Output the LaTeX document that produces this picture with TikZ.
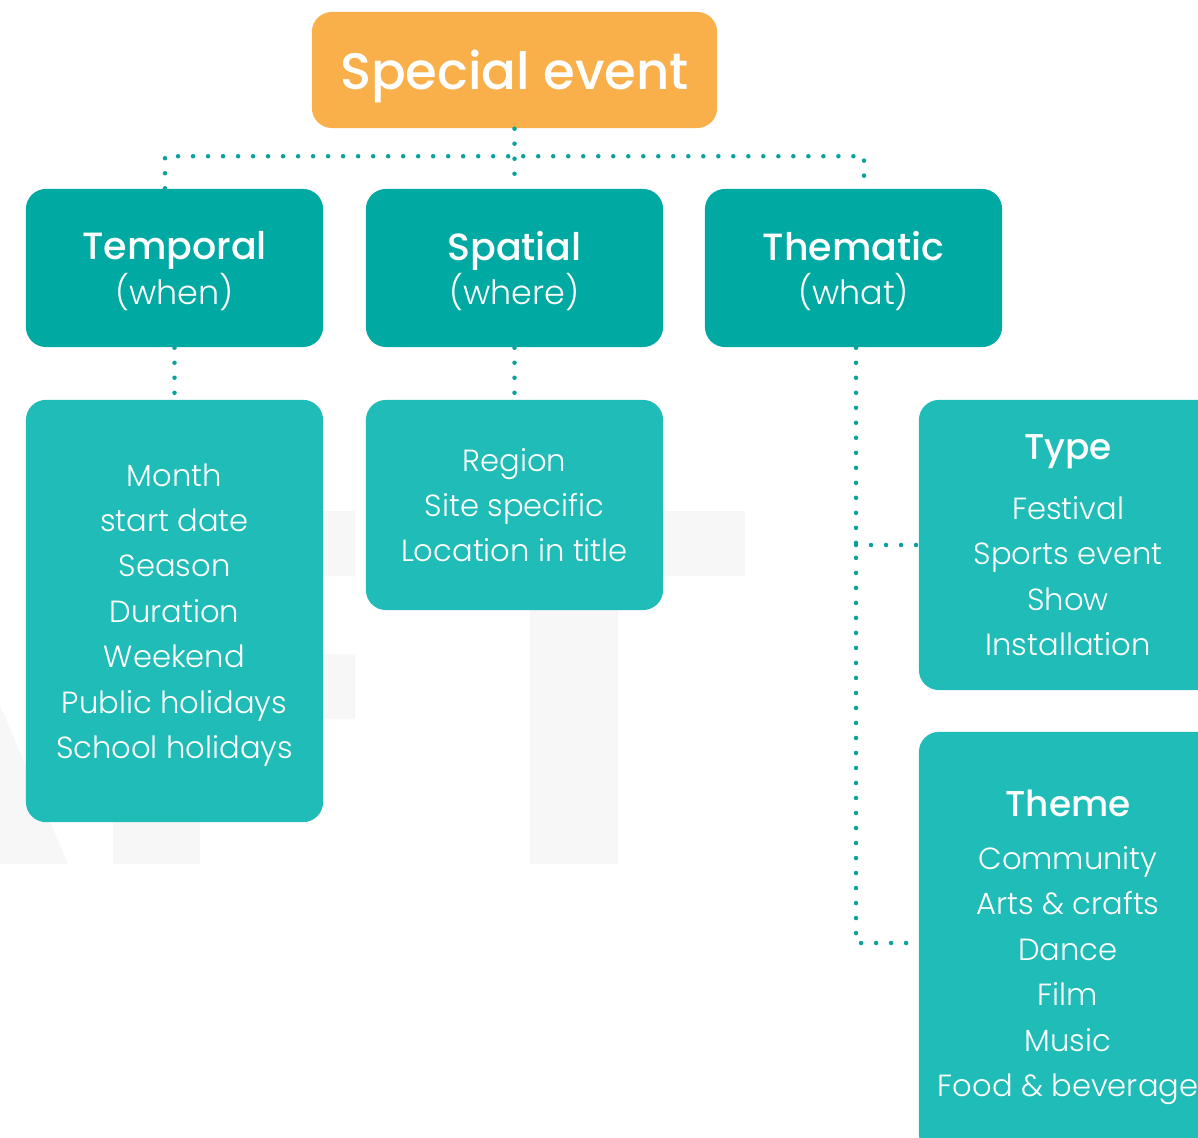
\documentclass[tikz,border=0pt]{standalone}
\usepackage{fontspec}
\setmainfont{Poppins}[UprightFont=* Light,BoldFont=* Medium]
\definecolor{eventorange}{HTML}{F9B04A}
\definecolor{headteal}{HTML}{00A9A2}
\definecolor{listteal}{HTML}{1FBCB8}
\definecolor{dotteal}{HTML}{0AA29C}
\definecolor{wmgray}{HTML}{F7F7F7}

\begin{document}
\begin{tikzpicture}[x=.01cm,y=-.01cm,
  box/.style={rounded corners=.2cm,text=white,align=center,inner sep=0pt,
    text depth=0pt,minimum width=2.97cm},
  header/.style={box,fill=headteal,minimum height=1.58cm,
    font=\fontsize{9.5}{12.7}\selectfont},
  itemlist/.style={box,fill=listteal,font=\fontsize{8.7}{12.9}\selectfont},
  link/.style={draw=dotteal,line width=.045cm,line cap=round,
    dash pattern=on 0pt off .15cm}]
 \clip (0,0) rectangle (1198,1137);
 \fill[wmgray] (0,705)--(68,864)--(0,864)--cycle;
 \fill[wmgray] (113,511) rectangle (200,864) (113,511) rectangle (355,576)
   (113,654) rectangle (355,719);
 \fill[wmgray] (403,511) rectangle (745,576) (530,576) rectangle (618,864);
 \node[box,fill=eventorange,minimum width=4.05cm,minimum height=1.16cm,
   font=\bfseries\fontsize{14.6}{18}\selectfont] (event) at (514.5,70) {Special event};
 \node[header] (tmp) at (174.5,268)
   {{\bfseries\fontsize{10.8}{12.7}\selectfont Temporal}\\(when)};
 \node[header] (spa) at (514.5,268)
   {{\bfseries\fontsize{10.8}{12.7}\selectfont Spatial}\\(where)};
 \node[header] (thm) at (853.5,268)
   {{\bfseries\fontsize{10.8}{12.7}\selectfont Thematic}\\(what)};
 \node[itemlist,minimum height=4.22cm] (tmpl) at (174.5,611)
   {Month\\start date\\Season\\Duration\\Weekend\\Public holidays\\School holidays};
 \node[itemlist,minimum height=2.1cm] (spal) at (514.5,505)
   {Region\\Site specific\\Location in title};
 \node[itemlist,minimum width=2.98cm,minimum height=2.9cm] (type) at (1068,545)
   {{\bfseries\fontsize{10.2}{12.9}\selectfont Type}\\[.15cm]Festival\\Sports event\\Show\\Installation};
 \node[itemlist,minimum width=2.98cm,minimum height=4.22cm] (theme) at (1068,943)
   {{\bfseries\fontsize{10.2}{12.9}\selectfont Theme}\\[.08cm]Community\\Arts \& crafts\\Dance\\Film\\Music\\Food \& beverage};
 \coordinate (trunk) at ([xshift=.025cm]thm.south);
 \draw[link] (event.south) -- (spa.north);
 \draw[link] ([xshift=-.095cm]tmp.north) -- ++(0,-32) -| ([xshift=.105cm]thm.north);
 \draw[link] (tmp.south) -- (tmpl.north);
 \draw[link] (spa.south) -- (spal.north);
 \draw[link] (trunk) |- (theme.west);
 \draw[link] (trunk |- type.west) -- (type.west);
\end{tikzpicture}
\end{document}
